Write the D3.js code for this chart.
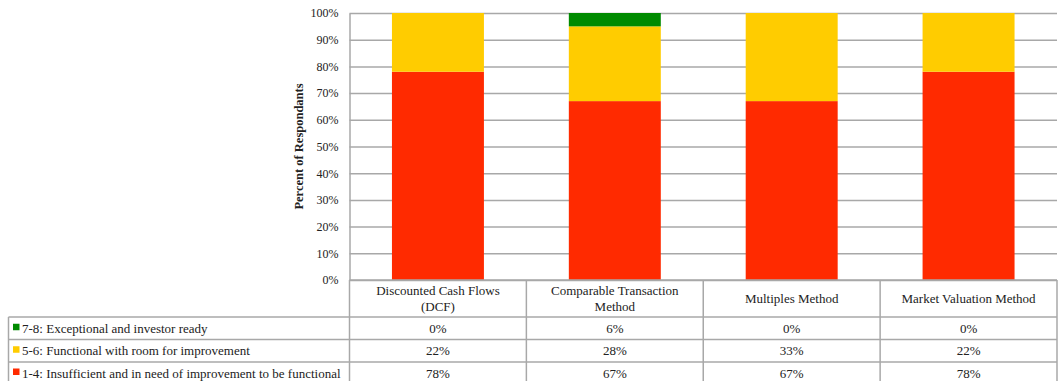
<!DOCTYPE html>
<html>
<head>
<meta charset="utf-8">
<script src="https://cdn.jsdelivr.net/npm/d3@7"></script>
<style>
  html, body { margin: 0; padding: 0; background: #fff; }
  svg { display: block; }
  text { font-family: "Liberation Serif", "Times New Roman", serif; fill: #222; }
</style>
</head>
<body>
<svg id="chart" width="1058" height="381"></svg>
<script>
// Valuation methods surveyed
const categories = [
  ["Discounted Cash Flows", "(DCF)"],
  ["Comparable Transaction", "Method"],
  ["Multiples Method"],
  ["Market Valuation Method"]
];
const categoryKeys = ["Discounted Cash Flows (DCF)", "Comparable Transaction Method", "Multiples Method", "Market Valuation Method"];

// Rating bands, bottom of the stack first
const seriesNames = [
  "1-4: Insufficient and in need of improvement to be functional",
  "5-6: Functional with room for improvement",
  "7-8: Exceptional and investor ready"
];
const seriesColors = ["#ff2a00", "#ffcc00", "#008a00"];

// Share of respondents (%) per band and method
const insufficient = [78, 67, 67, 78];
const functional   = [22, 28, 33, 22];
const exceptional  = [0, 6, 0, 0];

const yTicks = [0, 10, 20, 30, 40, 50, 60, 70, 80, 90, 100];

const seriesValues = [insufficient, functional, exceptional];

const svg = d3.select("#chart");
const plot = { left: 349.5, right: 1057, top: 13, bottom: 280 };
const tableLeft = 8.5;
const rowEdges = [280, 317, 339.5, 362, 384];
const gridColor = "#a8a8a8";

const x = d3.scaleBand().domain(categoryKeys).range([plot.left, plot.right]).padding(0);
const y = d3.scaleLinear().domain([0, 100]).range([plot.bottom, plot.top]);
const barW = x.bandwidth() * 0.52;

// Gridlines and percent axis
const yAxis = d3.axisLeft(y)
  .tickValues(yTicks)
  .tickSizeInner(-(plot.right - plot.left))
  .tickSizeOuter(0)
  .tickPadding(11)
  .tickFormat(d => d + "%");
const gAxis = svg.append("g").attr("transform", `translate(${plot.left},0)`).call(yAxis);
gAxis.select(".domain").attr("stroke", gridColor).attr("stroke-width", 1.5);
gAxis.selectAll(".tick line").attr("stroke", gridColor).attr("stroke-width", 1.5);
gAxis.selectAll(".tick text")
  .style("font-family", '"Liberation Serif", serif')
  .style("font-size", "12px")
  .attr("fill", "#333");

// Stacked bars, clipped at the 100% line
svg.append("clipPath").attr("id", "plotClip")
  .append("rect")
  .attr("x", plot.left).attr("y", plot.top)
  .attr("width", plot.right - plot.left).attr("height", plot.bottom - plot.top);

const stackRows = categoryKeys.map((k, i) => {
  const row = { key: k };
  seriesNames.forEach((s, j) => { row[s] = seriesValues[j][i]; });
  return row;
});
const stacked = d3.stack().keys(seriesNames)(stackRows);

const gBars = svg.append("g").attr("clip-path", "url(#plotClip)");
stacked.forEach((layer, j) => {
  gBars.selectAll(null).data(layer).enter().append("rect")
    .attr("x", d => x(d.data.key) + (x.bandwidth() - barW) / 2)
    .attr("width", barW)
    .attr("y", d => y(d[1]))
    .attr("height", d => Math.max(0, y(d[0]) - y(d[1])))
    .attr("fill", seriesColors[j]);
});

// Axis title
svg.append("text")
  .attr("transform", `translate(303,${(plot.top + plot.bottom) / 2}) rotate(-90)`)
  .attr("text-anchor", "middle")
  .style("font-size", "12.5px")
  .style("font-weight", "bold")
  .text("Percent of Respondants");

// Data table under the plot
const tbl = svg.append("g");
const line = (x1, y1, x2, y2) => tbl.append("line")
  .attr("x1", x1).attr("y1", y1).attr("x2", x2).attr("y2", y2)
  .attr("stroke", gridColor).attr("stroke-width", 1.5);

// header row (category names)
line(plot.left, rowEdges[0], plot.right, rowEdges[0]);
categoryKeys.forEach((k, i) => {
  const cx = x(k) + x.bandwidth() / 2;
  const lines = categories[i];
  const mid = (rowEdges[0] + rowEdges[1]) / 2;
  lines.forEach((t, li) => {
    tbl.append("text")
      .attr("x", cx)
      .attr("y", mid + (li - (lines.length - 1) / 2) * 16 + 4.5)
      .attr("text-anchor", "middle")
      .style("font-size", "13px")
      .text(t);
  });
});

// horizontal rules of the body rows
for (let r = 1; r < rowEdges.length; r++) line(tableLeft, rowEdges[r], plot.right, rowEdges[r]);
// vertical rules
line(tableLeft, rowEdges[1], tableLeft, rowEdges[4]);
[plot.left, ...categoryKeys.map(k => x(k) + x.bandwidth())].forEach(vx => line(vx, rowEdges[0], vx, rowEdges[4]));

// body rows: top band first
const rowOrder = [2, 1, 0];
rowOrder.forEach((s, r) => {
  const top = rowEdges[r + 1];
  const mid = (top + rowEdges[r + 2]) / 2;
  tbl.append("rect")
    .attr("x", 13).attr("y", mid - 4.5).attr("width", 6.5).attr("height", 6.5)
    .attr("fill", seriesColors[s]);
  tbl.append("text")
    .attr("x", 22).attr("y", mid + 4.5)
    .style("font-size", "13px")
    .text(seriesNames[s]);
  categoryKeys.forEach((k, i) => {
    tbl.append("text")
      .attr("x", x(k) + x.bandwidth() / 2).attr("y", mid + 4.5)
      .attr("text-anchor", "middle")
      .style("font-size", "13px")
      .text(seriesValues[s][i] + "%");
  });
});
</script>
</body>
</html>
